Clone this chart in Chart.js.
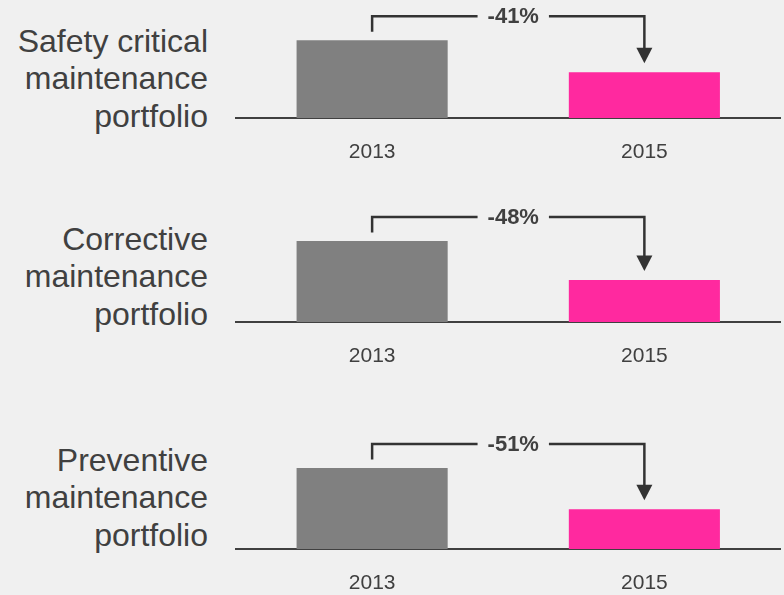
<!DOCTYPE html>
<html>
<head>
<meta charset="utf-8">
<script src="https://cdn.jsdelivr.net/npm/chart.js@4"></script>
<style>
  html, body { margin:0; padding:0; background:#f0f0f0; width:784px; height:595px; overflow:hidden; }
  .panel-label { position:absolute; left:0; width:208px; text-align:right; font-family:"Liberation Sans", Arial, sans-serif; font-size:32px; line-height:37.5px; color:#404040; }
  canvas { position:absolute; left:0; }
</style>
</head>
<body>
<script>
// ---- data ----
const categories = ['2013', '2015'];
const panelTitles = [
  ['Safety critical', 'maintenance', 'portfolio'],
  ['Corrective', 'maintenance', 'portfolio'],
  ['Preventive', 'maintenance', 'portfolio']
];
const values2013 = [100, 100, 100];
const values2015 = [59, 52, 49];
const changeLabels = ['-41%', '-48%', '-51%'];

// ---- layout / style ----
const FONT = '"Liberation Sans", Arial, sans-serif';
const canvasTops = [0, 199, 426];
const areaHeights = [118, 123, 123];
const labelTops = [22.5, 220.5, 441.5];
const AXIS_H = 50;
const Y_MAX = 152;
const GREY = '#808080', PINK = '#ff299f', TEXT = '#404040', LINE = '#333333';

const bracketPlugin = {
  id: 'bracket',
  afterDatasetsDraw(chart, args, opts) {
    const ctx = chart.ctx;
    const meta = chart.getDatasetMeta(0);
    const b0 = meta.data[0], b1 = meta.data[1];
    const x0 = b0.x, x1 = b1.x;
    const hy = b0.y - 24;
    const leftEnd = b0.y - 8.5;
    const tipY = b1.y - 9;
    const arrowH = 15.5, arrowW = 16;
    ctx.save();
    ctx.font = 'bold 22px ' + FONT;
    const tw = ctx.measureText(opts.text).width;
    const tc = (x0 + x1) / 2 + 5;
    const gapL = tc - tw / 2 - 10, gapR = tc + tw / 2 + 10;
    ctx.strokeStyle = LINE;
    ctx.lineWidth = 2.5;
    ctx.lineJoin = 'miter';
    ctx.beginPath();
    ctx.moveTo(x0, leftEnd);
    ctx.lineTo(x0, hy);
    ctx.lineTo(gapL, hy);
    ctx.moveTo(gapR, hy);
    ctx.lineTo(x1, hy);
    ctx.lineTo(x1, tipY - arrowH + 1);
    ctx.stroke();
    ctx.fillStyle = LINE;
    ctx.beginPath();
    ctx.moveTo(x1 - arrowW / 2, tipY - arrowH);
    ctx.lineTo(x1 + arrowW / 2, tipY - arrowH);
    ctx.lineTo(x1, tipY);
    ctx.closePath();
    ctx.fill();
    ctx.fillStyle = TEXT;
    ctx.textAlign = 'center';
    ctx.textBaseline = 'middle';
    ctx.fillText(opts.text, tc, hy + 1);
    ctx.restore();
  }
};

for (let i = 0; i < 3; i++) {
  const lab = document.createElement('div');
  lab.className = 'panel-label';
  lab.style.top = labelTops[i] + 'px';
  lab.innerHTML = panelTitles[i].join('<br>');
  document.body.appendChild(lab);

  const cv = document.createElement('canvas');
  cv.width = 784;
  cv.height = areaHeights[i] + AXIS_H;
  cv.style.top = canvasTops[i] + 'px';
  document.body.appendChild(cv);

  new Chart(cv, {
    type: 'bar',
    data: {
      labels: categories,
      datasets: [{
        data: [values2013[i], values2015[i]],
        backgroundColor: [GREY, PINK],
        borderWidth: 0,
        barPercentage: 0.555,
        categoryPercentage: 1
      }]
    },
    options: {
      responsive: false,
      animation: false,
      events: [],
      layout: { padding: { left: 236, right: 3.5, top: 0, bottom: 0 } },
      plugins: {
        legend: { display: false },
        tooltip: { enabled: false },
        bracket: { text: changeLabels[i] }
      },
      scales: {
        x: {
          grid: { display: false, drawTicks: false },
          border: { display: true, color: TEXT, width: 2 },
          ticks: { color: TEXT, font: { size: 21, family: FONT }, padding: 22 },
          afterFit(s) { s.height = AXIS_H; }
        },
        y: { display: false, min: 0, max: Y_MAX }
      }
    },
    plugins: [bracketPlugin]
  });
}
</script>
</body>
</html>
